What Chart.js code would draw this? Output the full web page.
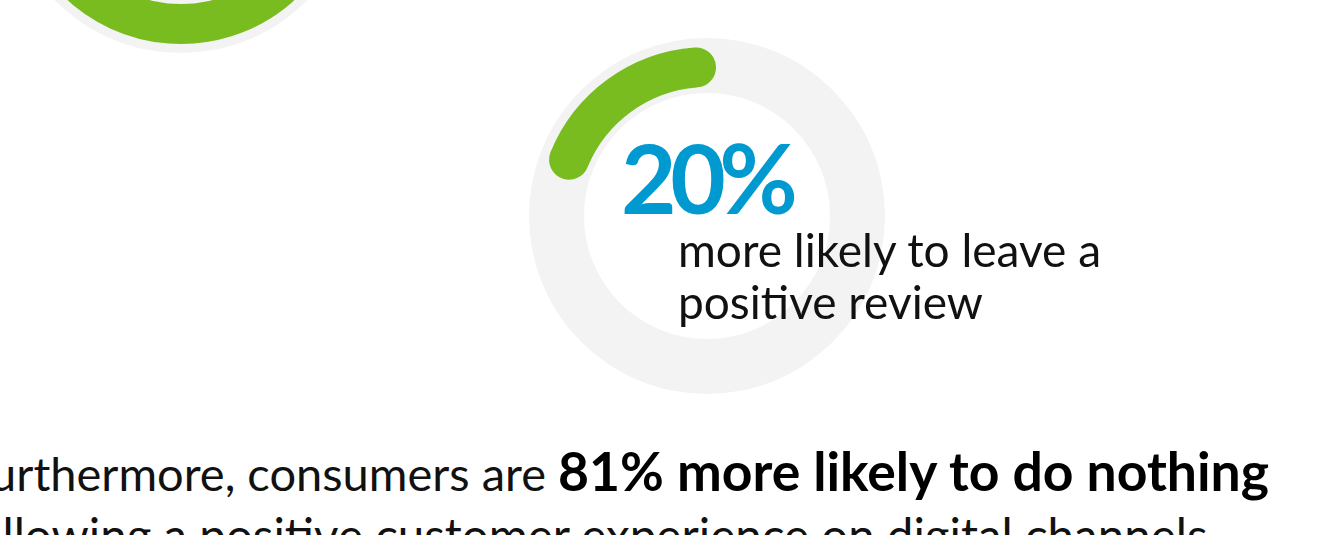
<!DOCTYPE html>
<html>
<head>
<meta charset="utf-8">
<script src="https://cdn.jsdelivr.net/npm/chart.js@4.4.1/dist/chart.umd.min.js"></script>
<style>
  html, body { margin: 0; padding: 0; background: #fff; }
  body { width: 1335px; height: 535px; overflow: hidden; position: relative; font-family: Lato, sans-serif; }
  .ring { position: absolute; width: 356px; height: 356px; }
  .ring canvas { position: absolute; left: 0; top: 0; }
  .txt { position: absolute; left: 0; top: 0; white-space: nowrap; }
  .probe { display: inline-block; width: 0; height: 0; }
  #bigNumber { font-weight: 700; color: #0099d0; line-height: 1; }
  #caption { color: #111; font-size: 46px; line-height: 52px; }
  .para { color: #111; font-size: 47px; line-height: 64px; }
  #line2 { font-size: 47.5px; }
  .para b { font-weight: 700; color: #000; font-size: 53.5px; }
</style>
</head>
<body>

<div class="ring" style="left:3px; top:-303px;">
  <canvas id="trackTop" width="356" height="356"></canvas>
  <canvas id="valueTop" width="356" height="356"></canvas>
</div>

<div class="ring" style="left:529px; top:38px;">
  <canvas id="trackMain" width="356" height="356"></canvas>
  <canvas id="valueMain" width="356" height="356"></canvas>
</div>

<div class="txt" id="bigNumber"><span class="probe"></span>20%</div>
<div class="txt" id="caption"><span class="probe"></span>more likely to leave a<br>positive review</div>

<div class="txt para" id="line1"><span class="probe"></span>Furthermore, consumers are <b id="boldPart">81% more likely to do nothing</b></div>
<div class="txt para" id="line2"><span class="probe"></span>following a positive customer experience on digital channels</div>

<script>
// values shown in the rings (percent)
const ringLabels = ["Top ring", "Main ring"];
const ringValues = [75, 20];
const trackValue = 100;

const green = '#78bc20';
const trackGrey = '#f3f3f3';

function makeTrack(canvasId){
    new Chart(document.getElementById(canvasId), {
        type: 'doughnut',
        data: {
            labels: ["track"],
            datasets: [{
                data: [trackValue],
                backgroundColor: trackGrey,
                borderWidth: 0
            }]
        },
        options: {
            responsive: false,
            animation: false,
            events: [],
            radius: 178,
            cutout: (123 / 178 * 100) + '%',
            layout: {padding: 0},
            plugins: {legend: {display: false}, tooltip: {enabled: false}}
        }
    });
}

// the green band: fill 138..160 plus a same-colour border, so the round ends poke out a bit
function makeValue(canvasId, value, label){
    new Chart(document.getElementById(canvasId), {
        type: 'doughnut',
        data: {
            labels: [label, "rest"],
            datasets: [{
                data: [value, trackValue - value],
                backgroundColor: [green, 'rgba(0,0,0,0)'],
                borderColor: [green, 'rgba(0,0,0,0)'],
                borderWidth: [18, 0],
                borderJoinStyle: 'round',
                borderRadius: [11, 0]
            }]
        },
        options: {
            responsive: false,
            animation: false,
            events: [],
            radius: 160,
            cutout: (138 / 160 * 100) + '%',
            // arcs run counter-clockwise from 12 o'clock
            rotation: -value / trackValue * 360,
            layout: {padding: 0},
            plugins: {legend: {display: false}, tooltip: {enabled: false}}
        }
    });
}

makeTrack("trackTop");
makeValue("valueTop", ringValues[0], ringLabels[0]);
makeTrack("trackMain");
makeValue("valueMain", ringValues[1], ringLabels[1]);

// text placement
const ctx = document.createElement("canvas").getContext("2d");
function ink(text, weight, size){
    ctx.font = weight + " " + size + "px Lato";
    const m = ctx.measureText(text);
    return {left: m.actualBoundingBoxLeft, right: m.actualBoundingBoxRight, asc: m.actualBoundingBoxAscent, width: m.width};
}
function putBaseline(el, x, baseline){
    el.style.left = x + "px";
    el.style.top = "0px";
    const b = el.querySelector(".probe").getBoundingClientRect().top;
    el.style.top = (baseline - b) + "px";
}

document.fonts.ready.then(() => {
    // "20%": ink box 624..795, digit top 143, baseline 213
    const big = document.getElementById("bigNumber");
    const m100 = ink("20%", 700, 100);
    const size = 100 * (213 - 143) / m100.asc;
    const inkW = (m100.left + m100.right) * size / 100;
    const ls = (795 - 624 - inkW) / 2;
    big.style.fontSize = size + "px";
    big.style.letterSpacing = ls + "px";
    putBaseline(big, 624 + m100.left * size / 100, 214);

    // caption
    const cap = document.getElementById("caption");
    const c = ink("more likely to leave a", 400, 46);
    putBaseline(cap, 681 + c.left, 267);

    // paragraph lines
    const line1 = document.getElementById("line1");
    putBaseline(line1, 0, 491);
    const boldLeft = document.getElementById("boldPart").getBoundingClientRect().left;
    const b = ink("81%", 700, 53.5);
    line1.style.left = (560 - boldLeft + b.left) + "px";

    const line2 = document.getElementById("line2");
    putBaseline(line2, 0, 553);
    const l2 = ink("following a positive customer experience on digital channels", 400, 47.5);
    line2.style.left = (1207 - l2.right) + "px";
});
</script>
</body>
</html>
